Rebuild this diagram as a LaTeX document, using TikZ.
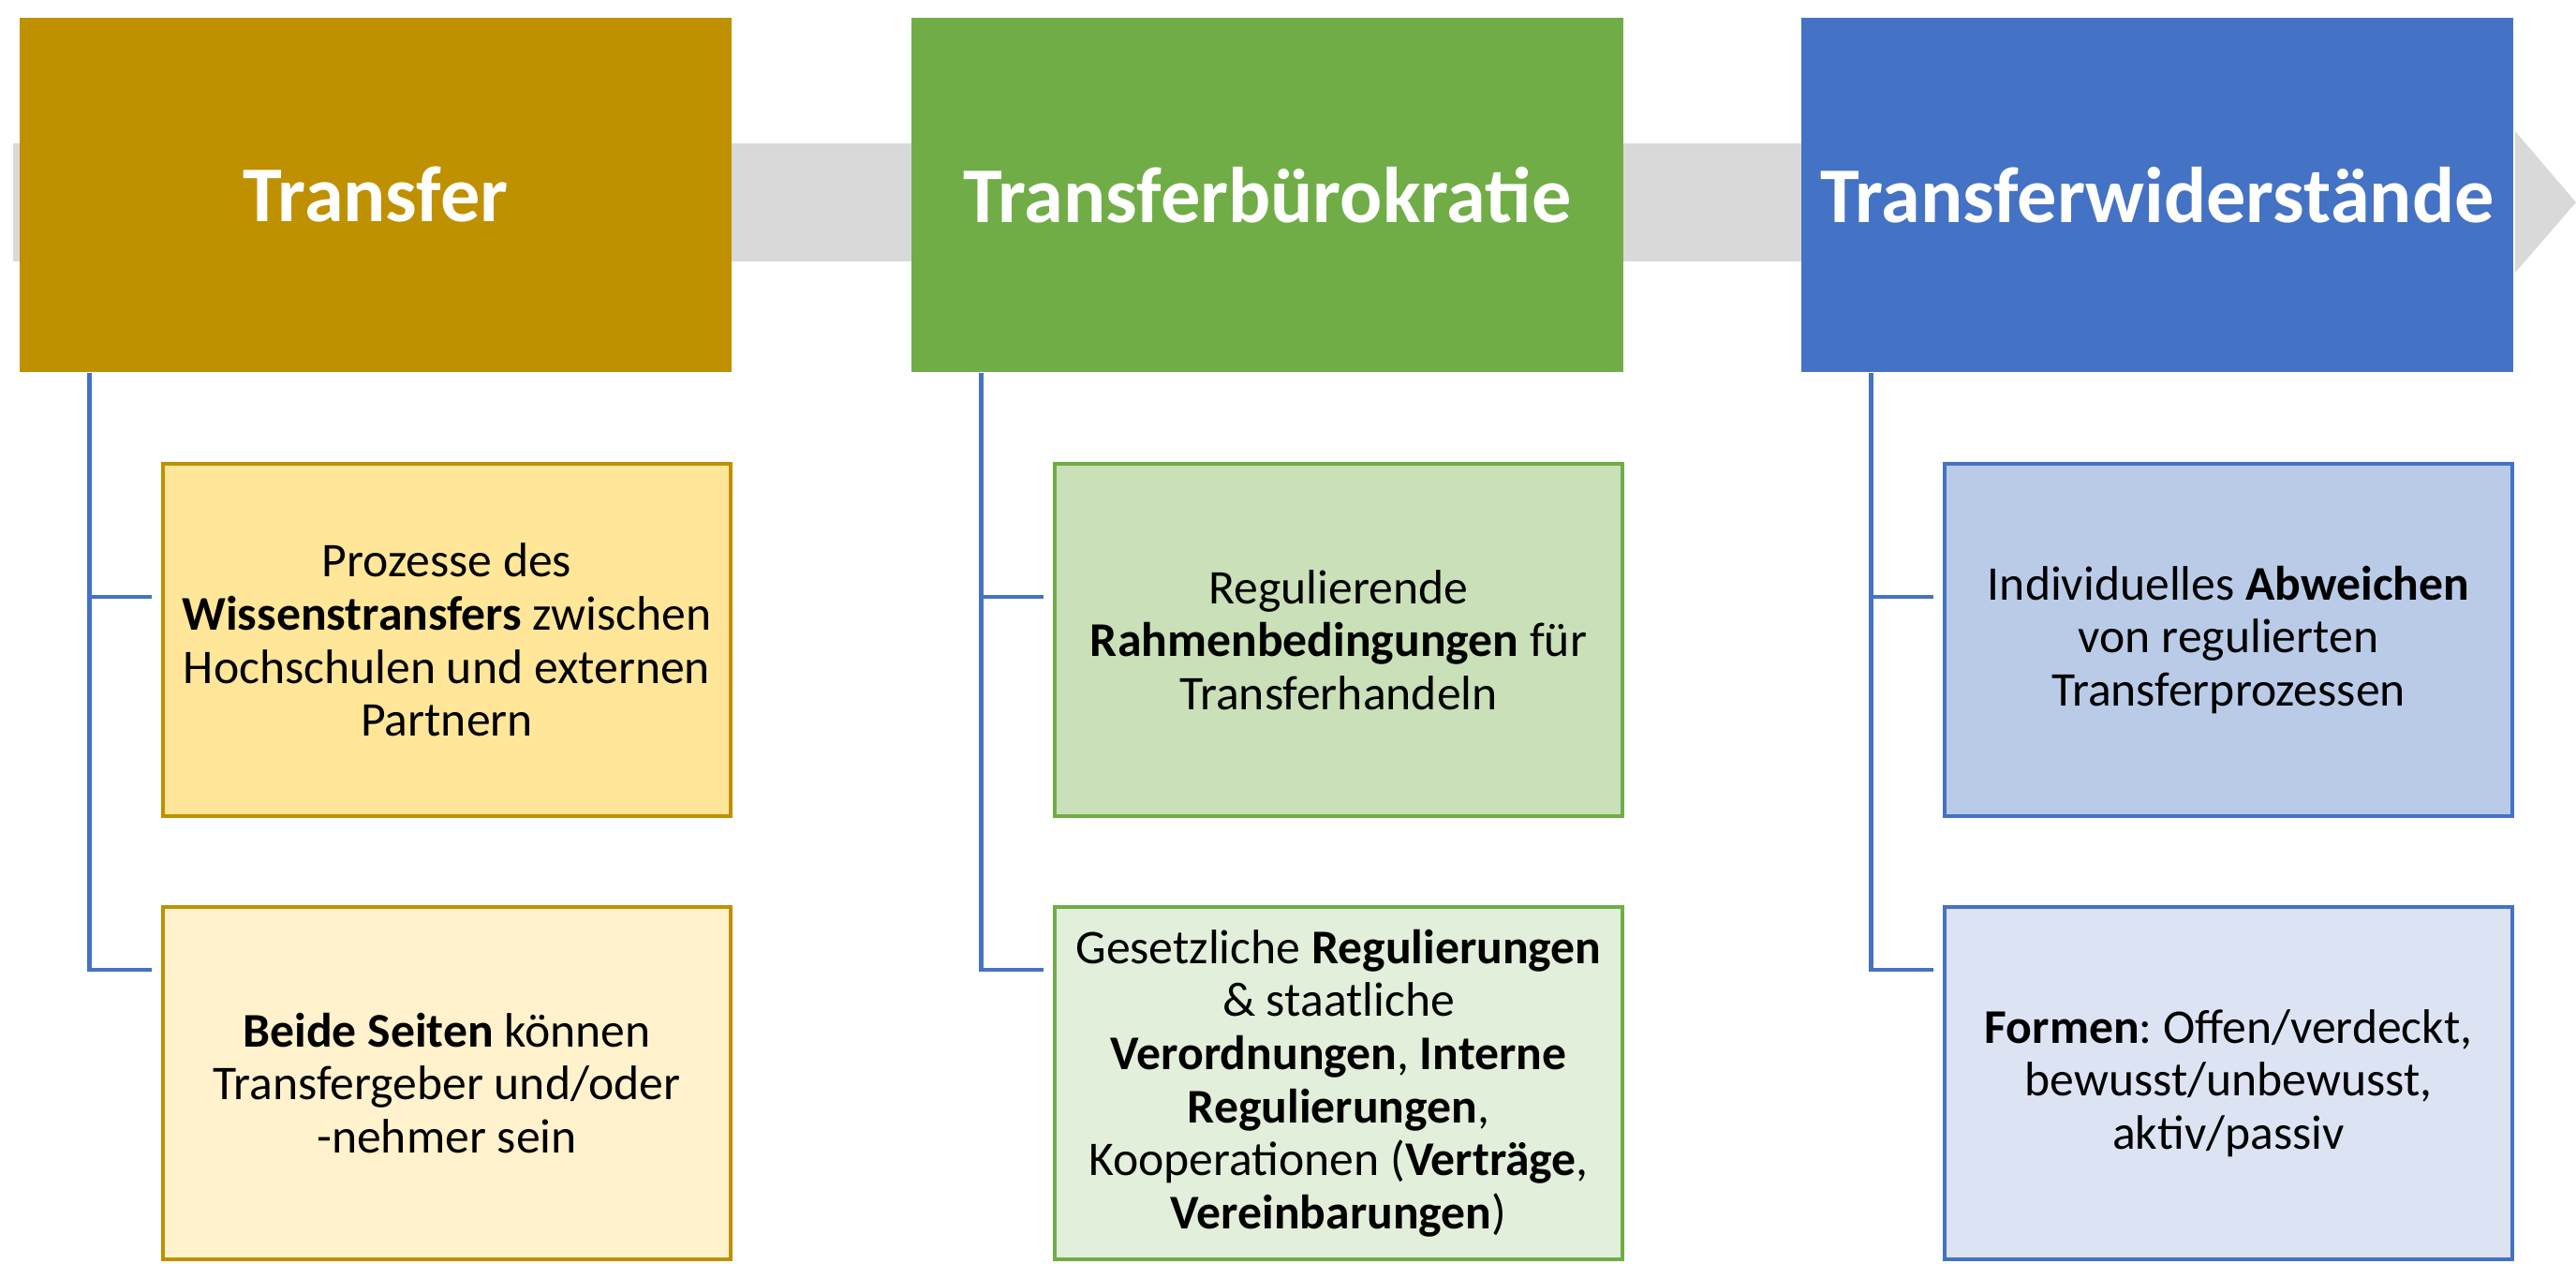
\documentclass[tikz,border=0pt]{standalone}
\usepackage{fontspec}
\setmainfont{Carlito}
\usepackage{tikz}
\frenchspacing

\definecolor{goldhead}{HTML}{BF9000}
\definecolor{goldone}{HTML}{FFE699}
\definecolor{goldtwo}{HTML}{FFF2CC}
\definecolor{greenhead}{HTML}{70AD47}
\definecolor{greenone}{HTML}{C9E0B8}
\definecolor{greentwo}{HTML}{E2EFDA}
\definecolor{bluehead}{HTML}{4472C4}
\definecolor{blueone}{HTML}{B9CBE7}
\definecolor{bluetwo}{HTML}{DCE3F2}
\definecolor{bandgray}{HTML}{D9D9D9}

\tikzset{
	head/.style={minimum width=7.6cm, minimum height=3.78cm, inner sep=0pt, text=white,
		font=\fontsize{24}{29}\selectfont\bfseries},
	item/.style={draw, line width=1.15pt, minimum width=6.06cm, minimum height=3.76cm,
		inner sep=0pt, align=center, font=\fontsize{14.7}{16.1}\selectfont},
	branch/.style={draw=bluehead, line width=1.4pt, shorten >=0.1cm},
}

\begin{document}
\begin{tikzpicture}

		\useasboundingbox (0,0) rectangle (27.5,-13.49);

		%% grey arrow behind the headers
		\fill[bandgray] (0.14,-1.53) rectangle (26.5,-2.79);
		\fill[bandgray] (26.85,-1.40) -- (27.5,-2.16) -- (26.85,-2.91) -- cycle;

		\node[head,fill=goldhead] (Transfer) at (4.01,-2.08) {Transfer};
		\node[head,fill=greenhead] (Buero) at (13.53,-2.08) {Transferbürokratie};
		\node[head,fill=bluehead] (Widerstand) at (23.03,-2.08) {Transferwiderstände};

		\node[item,draw=goldhead,fill=goldone] (TransferProc) at (4.77,-6.83)
			{Prozesse des\\\textbf{Wissenstransfers} zwischen\\Hochschulen und externen\\Partnern};
		\node[item,draw=goldhead,fill=goldtwo] (TransferSides) at (4.77,-11.56)
			{\textbf{Beide Seiten} können\\Transfergeber und/oder\\-nehmer sein};

		\node[item,draw=greenhead,fill=greenone] (BueroFrame) at (14.29,-6.83)
			{Regulierende\\\textbf{Rahmenbedingungen} für\\Transferhandeln};
		\node[item,draw=greenhead,fill=greentwo] (BueroRules) at (14.29,-11.56)
			{Gesetzliche \textbf{Regulierungen}\\\& staatliche\\\textbf{Verordnungen}, \textbf{Interne}\\\textbf{Regulierungen},\\Kooperationen (\textbf{Verträge},\\\textbf{Vereinbarungen})};

		\node[item,draw=bluehead,fill=blueone] (WidAbweichen) at (23.79,-6.83)
			{Individuelles \textbf{Abweichen}\\von regulierten\\Transferprozessen};
		\node[item,draw=bluehead,fill=bluetwo] (WidFormen) at (23.79,-11.56)
			{\textbf{Formen}: Offen/verdeckt,\\bewusst/unbewusst,\\aktiv/passiv};

		%% tree lines, they meet the boxes above their middle
		\draw[branch] (Transfer.south west) ++(0.75,0) |- ([yshift=0.46cm]TransferProc.west);
		\draw[branch] (Transfer.south west) ++(0.75,0) |- ([yshift=1.21cm]TransferSides.west);

		\draw[branch] (Buero.south west) ++(0.75,0) |- ([yshift=0.46cm]BueroFrame.west);
		\draw[branch] (Buero.south west) ++(0.75,0) |- ([yshift=1.21cm]BueroRules.west);

		\draw[branch] (Widerstand.south west) ++(0.75,0) |- ([yshift=0.46cm]WidAbweichen.west);
		\draw[branch] (Widerstand.south west) ++(0.75,0) |- ([yshift=1.21cm]WidFormen.west);

\end{tikzpicture}
\end{document}
